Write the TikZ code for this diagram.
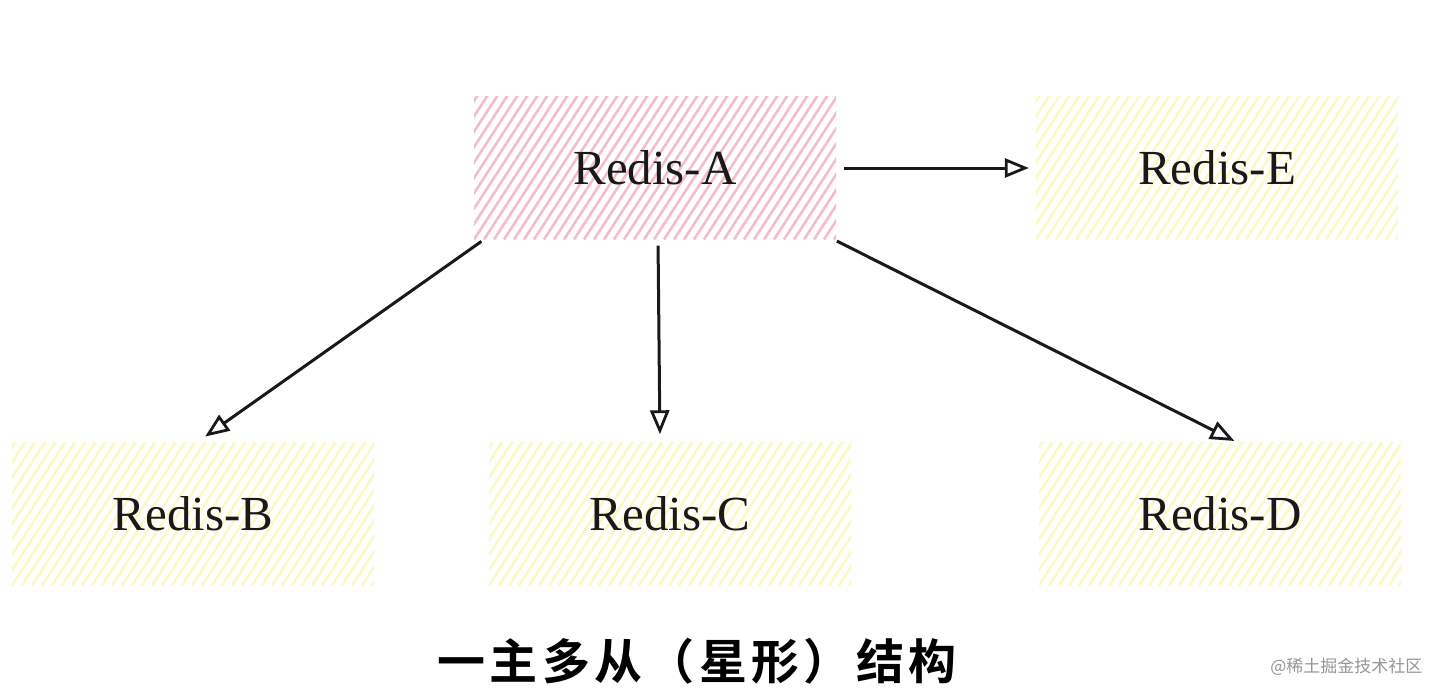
\documentclass[tikz,border=0pt]{standalone}
\usepackage{fontspec}
\setmainfont{Liberation Serif}
\newfontfamily\cjkbold[BoldFont=* Bold, LetterSpace=9]{Noto Sans CJK SC}
\newfontfamily\cjkwm{Noto Sans CJK SC}
\usetikzlibrary{arrows.meta,calc}
\definecolor{pinkhatch}{RGB}{244,190,198}
\definecolor{yellowhatch}{RGB}{251,249,196}
\definecolor{inkcol}{RGB}{25,25,25}
\definecolor{wmgray}{RGB}{150,150,150}
\tikzset{
  box/.style={minimum width=362pt, minimum height=143pt, inner sep=0pt,
    font=\fontsize{49}{55}\selectfont, text=inkcol},
  hatch/.style={path picture={
    \foreach \k in {0,...,60}{
      \draw[#1, line width=2.6pt]
        ([xshift=\k*10pt-150pt]path picture bounding box.south west) -- ++(57:340pt);
    }}},
  link/.style={draw=inkcol, line width=3pt,
    -{Triangle[open, length=24pt, width=19pt, line width=2.8pt]}},
}
\begin{document}
\begin{tikzpicture}[x=1pt,y=-1pt]
\useasboundingbox[fill=white] (0,0) rectangle (1447,699);
\node[box, hatch=pinkhatch]   (A) at (655,168)  {Redis-A};
\node[box, hatch=yellowhatch] (E) at (1217,168) {Redis-E};
\node[box, hatch=yellowhatch] (B) at (193,514)  {Redis-B};
\node[box, hatch=yellowhatch] (C) at (670,514)  {Redis-C};
\node[box, hatch=yellowhatch] (D) at (1220,514) {Redis-D};

\draw[link, shorten <=8pt, shorten >=7pt] (A.east) -- (E.west);
\draw[link, shorten <=3pt, shorten >=10pt] ([xshift=10pt]A.south west) -- ([xshift=4pt]B.north);
\draw[link, shorten <=6pt, shorten >=8pt] ([xshift=3pt]A.south) -- ([xshift=-10pt]C.north);
\draw[link, shorten <=3pt, shorten >=3pt] ([xshift=-2pt]A.south east) -- ([xshift=17pt]D.north);

\node[font=\cjkbold\bfseries\fontsize{48}{52}\selectfont, text=black] (title) at (697,661) {一主多从（星形）结构};
\node[font=\cjkwm\fontsize{17}{20}\selectfont, text=wmgray, anchor=east] (wm) at (1426,667) {@稀土掘金技术社区};
\end{tikzpicture}
\end{document}
